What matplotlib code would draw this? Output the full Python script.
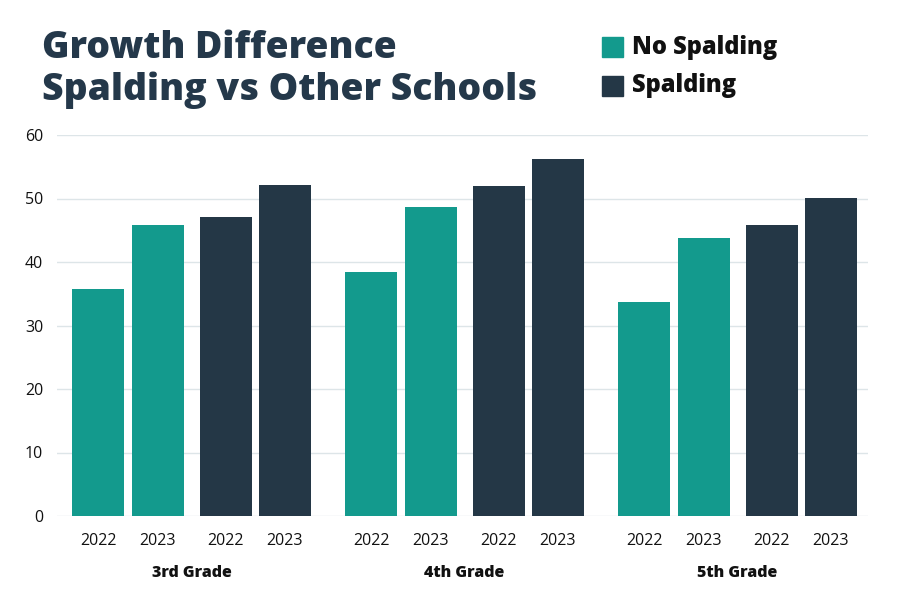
import matplotlib
matplotlib.use("Agg")
import matplotlib.pyplot as plt
from matplotlib.patches import Rectangle
import numpy as np

grades = ["3rd Grade", "4th Grade", "5th Grade"]
years = ["2022", "2023"]
no_spalding_2022 = [35.8, 38.5, 33.7]
no_spalding_2023 = [45.8, 48.7, 43.8]
spalding_2022 = [47.1, 52.0, 45.8]
spalding_2023 = [52.1, 56.2, 50.1]
series_names = ["No Spalding", "Spalding"]

TEAL = "#139a8d"
NAVY = "#243746"
TITLE_C = "#24384a"

plt.rcParams['font.family'] = ['Open Sans', 'DejaVu Sans']

fig = plt.figure(figsize=(9, 6), dpi=100)
ax = fig.add_axes([57/900, 1-516/600, (868-57)/900, (516-135)/600])

x = np.arange(len(grades))
w = 52/273
offsets = [-0.342, -0.123, 0.125, 0.342]
vals = [no_spalding_2022, no_spalding_2023, spalding_2022, spalding_2023]
cols = [TEAL, TEAL, NAVY, NAVY]
for off, v, c in zip(offsets, vals, cols):
    ax.bar(x + off, v, width=w, color=c, zorder=3)

ax.set_ylim(0, 60)
ax.set_xlim((57-191.5)/273, (868-191.5)/273)
ax.set_yticks(range(0, 61, 10))
ax.grid(axis='y', color='#dde5e8', linewidth=1, zorder=0)
for s in ax.spines.values():
    s.set_visible(False)
ax.tick_params(axis='y', length=0, pad=10, labelsize=11.5, labelcolor='#111111')
ax.tick_params(axis='x', length=0)

ticks = []
labels = []
for g in x:
    for off, yr in zip(offsets, years * 2):
        ticks.append(g + off)
        labels.append(yr)
ax.set_xticks(ticks)
ax.set_xticklabels(labels, fontsize=11.5, color='#111111')
ax.tick_params(axis='x', pad=12)

for g, name in zip(x, grades):
    ax.text(g, -0.15, name, transform=ax.get_xaxis_transform(), ha='center', va='center',
            fontsize=11.5, fontweight=800, color='#111111')

fig.text(42/900, 1-49/600, "Growth Difference", fontsize=26.8, fontweight=800,
         color=TITLE_C, va='center', ha='left')
fig.text(42/900, 1-90/600, "Spalding vs Other Schools", fontsize=26.8, fontweight=800,
         color=TITLE_C, va='center', ha='left')

for i, (name, c) in enumerate(zip(series_names, [TEAL, NAVY])):
    yc = 47 + i * 39
    fig.add_artist(Rectangle((602/900, 1-(yc+10)/600), 21/900, 20/600,
                             transform=fig.transFigure, color=c))
    fig.text(632/900, 1-yc/600, name, fontsize=17, fontweight=800,
             color='#111111', va='center', ha='left')

fig.savefig("out.png", dpi=100)
